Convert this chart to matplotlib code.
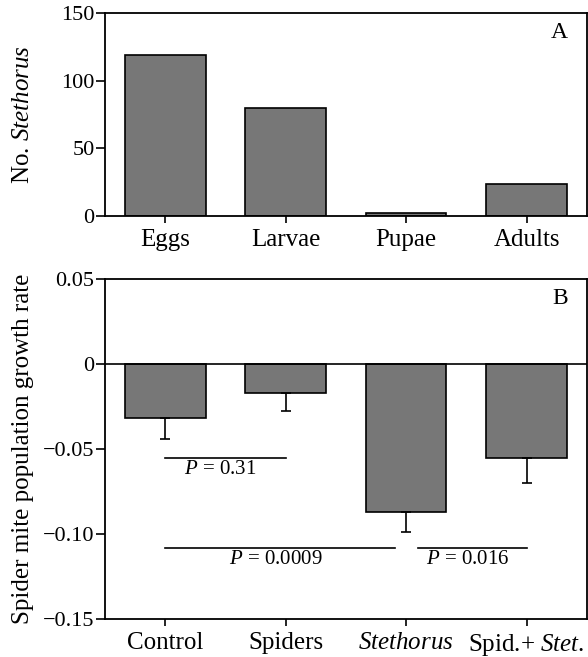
import matplotlib
matplotlib.use('Agg')
import matplotlib.pyplot as plt

plt.rcParams['font.family'] = ['Liberation Serif', 'DejaVu Serif']
plt.rcParams['mathtext.fontset'] = 'custom'
plt.rcParams['mathtext.rm'] = 'Liberation Serif'
plt.rcParams['mathtext.it'] = 'Liberation Serif:italic'

# panel A: Stethorus stages found
stages = ['Eggs', 'Larvae', 'Pupae', 'Adults']
counts = [119, 80, 2, 24]
a_yticks = [0, 50, 100, 150]

# panel B: spider mite growth rate by treatment
treatments = ['Control', 'Spiders', r'$\mathit{Stethorus}$', r'Spid.+ $\mathit{Stet.}$']
growth = [-0.032, -0.017, -0.087, -0.055]
se = [0.012, 0.0105, 0.012, 0.0147]
b_yticks = [-0.15, -0.10, -0.05, 0, 0.05]
b_yticklabels = ['\u22120.15', '\u22120.10', '\u22120.05', '0', '0.05']

# significance bars: x start, x end, y, label
comparisons = [(0, 1, -0.055, '0.31'),
               (0, 1.91, -0.108, '0.0009'),
               (2.1, 3, -0.108, '0.016')]

bar_color = '#777777'
w = 0.67

fig = plt.figure(figsize=(5.88, 6.57), dpi=100)
axA = fig.add_axes([0.1786, 0.671, 0.8194, 0.309])
axB = fig.add_axes([0.1786, 0.0578, 0.8194, 0.5175])

for ax in (axA, axB):
    for s in ax.spines.values():
        s.set_linewidth(1.3)
    ax.tick_params(direction='out', width=1.2)
    ax.tick_params(axis='x', labelsize=18, pad=4, length=5)
    ax.tick_params(axis='y', labelsize=16, pad=1, length=6.5)

# A
xa = range(len(stages))
axA.bar(xa, counts, width=w, color=bar_color, edgecolor='black', linewidth=1.2)
axA.set_xlim(-0.5, 3.5)
axA.set_ylim(0, 150)
axA.set_yticks(a_yticks)
axA.set_xticks(list(xa))
axA.set_xticklabels(stages)
axA.set_ylabel(r'No. $\mathit{Stethorus}$', fontsize=18)
axA.yaxis.set_label_coords(-0.148, 0.5)
axA.text(0.96, 0.955, 'A', transform=axA.transAxes, fontsize=17,
         ha='right', va='top')

# B
xb = range(len(treatments))
axB.bar(xb, growth, width=w, color=bar_color, edgecolor='black', linewidth=1.2)
axB.errorbar(xb, growth, yerr=[se, [0] * len(se)], fmt='none', ecolor='black',
             elinewidth=1.2, capsize=3.3, capthick=1.2)
axB.axhline(0, color='black', linewidth=1.2)
axB.set_xlim(-0.5, 3.5)
axB.set_ylim(-0.15, 0.05)
axB.set_yticks(b_yticks)
axB.set_yticklabels(b_yticklabels)
axB.set_xticks(list(xb))
axB.set_xticklabels(treatments)
axB.set_ylabel('Spider mite population growth rate', fontsize=18)
axB.yaxis.set_label_coords(-0.148, 0.5)
axB.text(0.96, 0.975, 'B', transform=axB.transAxes, fontsize=17,
         ha='right', va='top')

for x0, x1, y, p in comparisons:
    axB.plot([x0, x1], [y, y], color='black', linewidth=1.2)
    axB.text((x0 + x1) / 2 - 0.04, y - 0.0012, r'$\mathit{P}$ = ' + p,
             ha='center', va='top', fontsize=15)

fig.savefig('out.png', dpi=100)
